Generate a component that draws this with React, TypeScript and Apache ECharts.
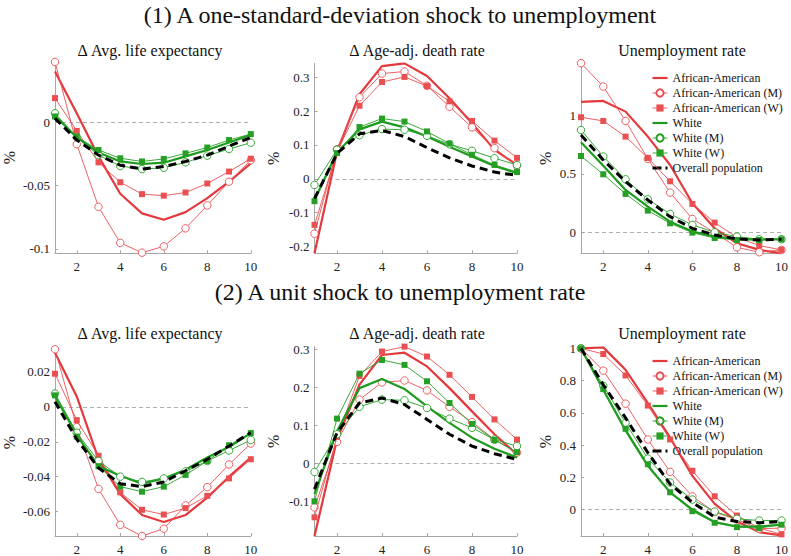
import React, { useEffect, useRef } from "react";
import * as echarts from "echarts";

// Horizon (years after shock)
const HORIZON = [1, 2, 3, 4, 5, 6, 7, 8, 9, 10];
const X_TICKS = [2, 4, 6, 8, 10];

const SERIES_NAMES = [
  "African-American",
  "African-American (M)",
  "African-American (W)",
  "White",
  "White (M)",
  "White (W)",
  "Overall population",
];

const ROW_TITLES = [
  "(1) A one-standard-deviation shock to unemployment",
  "(2) A unit shock to unemployment rate",
];
const PANEL_TITLES = ["Δ Avg. life expectancy", "Δ Age-adj. death rate", "Unemployment rate"];

// ---------- (1) one-s.d. shock : Δ Avg. life expectancy ----------
const sdLifeAA = [0.040, 0.007, -0.027, -0.0565, -0.072, -0.077, -0.071, -0.060, -0.047, -0.0325];
const sdLifeAAM = [0.0475, -0.0174, -0.0668, -0.0953, -0.103, -0.098, -0.0838, -0.0657, -0.047, -0.030];
const sdLifeAAW = [0.019, -0.0069, -0.0317, -0.0474, -0.0568, -0.058, -0.0555, -0.0484, -0.039, -0.0288];
const sdLifeW = [0.005, -0.012, -0.024, -0.031, -0.033, -0.032, -0.027, -0.022, -0.016, -0.010];
const sdLifeWM = [0.007, -0.012, -0.026, -0.0346, -0.037, -0.036, -0.0317, -0.0264, -0.0212, -0.0162];
const sdLifeWW = [0.0045, -0.0115, -0.022, -0.0285, -0.031, -0.029, -0.0246, -0.020, -0.0141, -0.0094];
const sdLifeAll = [0.003, -0.014, -0.026, -0.034, -0.037, -0.035, -0.031, -0.026, -0.019, -0.012];
const sdLifeTicks = [-0.1, -0.05, 0];

// ---------- (1) one-s.d. shock : Δ Age-adj. death rate ----------
const sdDeathAA = [-0.22, 0.08, 0.25, 0.333, 0.341, 0.304, 0.238, 0.164, 0.0855, 0.041];
const sdDeathAAM = [-0.162, 0.0875, 0.241, 0.311, 0.317, 0.275, 0.213, 0.152, 0.0905, 0.039];
const sdDeathAAW = [-0.136, 0.08, 0.216, 0.286, 0.301, 0.274, 0.229, 0.171, 0.113, 0.062];
const sdDeathW = [-0.062, 0.078, 0.146, 0.169, 0.152, 0.125, 0.095, 0.066, 0.038, 0.017];
const sdDeathWM = [-0.018, 0.086, 0.129, 0.147, 0.145, 0.127, 0.102, 0.083, 0.061, 0.041];
const sdDeathWW = [-0.066, 0.076, 0.153, 0.178, 0.169, 0.14, 0.104, 0.071, 0.041, 0.02];
const sdDeathAll = [-0.058, 0.075, 0.133, 0.143, 0.125, 0.092, 0.062, 0.038, 0.02, 0.01];
const sdDeathTicks = [-0.2, -0.1, 0, 0.1, 0.2, 0.3];

// ---------- (1) one-s.d. shock : Unemployment rate ----------
const sdUnempAA = [1.117, 1.126, 1.034, 0.82, 0.577, 0.249, 0.034, -0.094, -0.151, -0.18];
const sdUnempAAM = [1.449, 1.249, 0.954, 0.629, 0.34, 0.114, -0.003, -0.129, -0.171, -0.151];
const sdUnempAAW = [0.986, 0.954, 0.82, 0.637, 0.437, 0.243, 0.083, -0.043, -0.114, -0.151];
const sdUnempW = [0.771, 0.57, 0.363, 0.22, 0.091, 0.006, -0.037, -0.057, -0.06, -0.06];
const sdUnempWM = [0.877, 0.649, 0.454, 0.283, 0.157, 0.063, 0.0, -0.037, -0.06, -0.06];
const sdUnempWW = [0.654, 0.497, 0.329, 0.186, 0.077, -0.003, -0.049, -0.066, -0.066, -0.06];
const sdUnempAll = [0.834, 0.62, 0.434, 0.277, 0.134, 0.034, -0.023, -0.057, -0.066, -0.06];
const sdUnempTicks = [0, 0.5, 1];

// ---------- (2) unit shock : Δ Avg. life expectancy ----------
const unitLifeAA = [0.031, 0.006, -0.030, -0.050, -0.062, -0.066, -0.062, -0.052, -0.040, -0.029];
const unitLifeAAM = [0.033, -0.0116, -0.047, -0.0676, -0.074, -0.0698, -0.0565, -0.046, -0.033, -0.021];
const unitLifeAAW = [0.019, -0.0076, -0.028, -0.049, -0.059, -0.0617, -0.058, -0.051, -0.041, -0.030];
const unitLifeW = [0.006, -0.016, -0.034, -0.0395, -0.044, -0.041, -0.036, -0.029, -0.023, -0.015];
const unitLifeWM = [0.0076, -0.0148, -0.031, -0.040, -0.043, -0.041, -0.037, -0.031, -0.025, -0.019];
const unitLifeWW = [0.0066, -0.017, -0.034, -0.0457, -0.0486, -0.0457, -0.039, -0.031, -0.022, -0.015];
const unitLifeAll = [0.003, -0.0186, -0.035, -0.044, -0.0457, -0.043, -0.0366, -0.030, -0.0224, -0.0148];
const unitLifeTicks = [-0.06, -0.04, -0.02, 0, 0.02];

// ---------- (2) unit shock : Δ Age-adj. death rate ----------
const unitDeathAA = [-0.19, 0.063, 0.207, 0.285, 0.291, 0.255, 0.198, 0.137, 0.077, 0.024];
const unitDeathAAM = [-0.115, 0.057, 0.168, 0.213, 0.218, 0.192, 0.149, 0.109, 0.063, 0.029];
const unitDeathAAW = [-0.141, 0.07, 0.23, 0.294, 0.307, 0.281, 0.233, 0.175, 0.116, 0.063];
const unitDeathW = [-0.08, 0.085, 0.198, 0.222, 0.196, 0.15, 0.107, 0.068, 0.039, 0.016];
const unitDeathWM = [-0.022, 0.077, 0.149, 0.168, 0.166, 0.146, 0.118, 0.094, 0.063, 0.046];
const unitDeathWW = [-0.099, 0.118, 0.236, 0.272, 0.259, 0.216, 0.159, 0.104, 0.062, 0.03];
const unitDeathAll = [-0.067, 0.081, 0.159, 0.172, 0.155, 0.116, 0.077, 0.046, 0.026, 0.011];
const unitDeathTicks = [-0.1, 0, 0.1, 0.2, 0.3];

// ---------- (2) unit shock : Unemployment rate ----------
const unitUnempAA = [1.0, 1.006, 0.867, 0.661, 0.446, 0.209, 0.035, -0.074, -0.14, -0.16];
const unitUnempAAM = [1.0, 0.862, 0.657, 0.435, 0.234, 0.082, -0.016, -0.062, -0.119, -0.115];
const unitUnempAAW = [1.0, 0.965, 0.832, 0.645, 0.435, 0.24, 0.082, -0.037, -0.115, -0.154];
const unitUnempW = [1.0, 0.743, 0.491, 0.271, 0.107, 0.0, -0.078, -0.105, -0.105, -0.094];
const unitUnempWM = [1.0, 0.768, 0.538, 0.316, 0.168, 0.062, -0.012, -0.057, -0.068, -0.068];
const unitUnempWW = [1.0, 0.747, 0.501, 0.281, 0.107, -0.01, -0.082, -0.109, -0.115, -0.094];
const unitUnempAll = [1.0, 0.774, 0.569, 0.353, 0.158, 0.045, -0.047, -0.074, -0.082, -0.074];
const unitUnempTicks = [0, 0.2, 0.4, 0.6, 0.8, 1];

const PANEL_DATA = [
  [sdLifeAA, sdLifeAAM, sdLifeAAW, sdLifeW, sdLifeWM, sdLifeWW, sdLifeAll],
  [sdDeathAA, sdDeathAAM, sdDeathAAW, sdDeathW, sdDeathWM, sdDeathWW, sdDeathAll],
  [sdUnempAA, sdUnempAAM, sdUnempAAW, sdUnempW, sdUnempWM, sdUnempWW, sdUnempAll],
  [unitLifeAA, unitLifeAAM, unitLifeAAW, unitLifeW, unitLifeWM, unitLifeWW, unitLifeAll],
  [unitDeathAA, unitDeathAAM, unitDeathAAW, unitDeathW, unitDeathWM, unitDeathWW, unitDeathAll],
  [unitUnempAA, unitUnempAAM, unitUnempAAW, unitUnempW, unitUnempWM, unitUnempWW, unitUnempAll],
];
const PANEL_TICKS = [sdLifeTicks, sdDeathTicks, sdUnempTicks, unitLifeTicks, unitDeathTicks, unitUnempTicks];
// tight y-limits (data range) per panel
const PANEL_YMIN = [-0.1035, -0.22, -0.18, -0.074, -0.19, -0.164];
const PANEL_YMAX = [0.0475, 0.341, 1.449, 0.033, 0.307, 1.006];

const FONT = '"Liberation Serif", "Times New Roman", serif';
const RED = "#e3393c";
const RED_L = "#ea4f52";
const GREEN = "#1e9a1e";
const GREEN_L = "#25a025";

const SERIES_STYLE = [
  { color: RED, width: 2.2, symbol: "none", size: 0, hollow: false, dash: "solid" },
  { color: RED_L, width: 0.9, symbol: "circle", size: 7.5, hollow: true, dash: "solid" },
  { color: RED_L, width: 0.9, symbol: "rect", size: 6, hollow: false, dash: "solid" },
  { color: GREEN, width: 2.2, symbol: "none", size: 0, hollow: false, dash: "solid" },
  { color: GREEN_L, width: 0.9, symbol: "circle", size: 7.5, hollow: true, dash: "solid" },
  { color: GREEN_L, width: 0.9, symbol: "rect", size: 6, hollow: false, dash: "solid" },
  { color: "#000000", width: 3, symbol: "none", size: 0, hollow: false, dash: [8, 5] },
];

// layout (px in the 791x556 page)
const COL_LEFT = [48.3, 314.5, 581];
const PLOT_W = 202.5;
const ROW_BOTTOM = [253.3, 537.3];
const PANEL_TOP = [62, 63.4, 63.2, 349.3, 346.6, 347.4];
const NAME_GAP = [38, 33, 28, 38, 33, 28];
const TITLE_X = [150, 417, 682];
const TITLE_Y = [50, 333];
const ROW_TITLE_Y = [15, 292];
const LEGEND_TOP = [72, 355];

export default function App() {
  const ref = useRef<HTMLDivElement>(null);
  useEffect(() => {
    if (!ref.current) return;
    const chart = echarts.init(ref.current, undefined, { renderer: "svg" });

    const grids: any[] = [];
    const xAxes: any[] = [];
    const yAxes: any[] = [];
    const series: any[] = [];

    for (let p = 0; p < 6; p++) {
      const col = p % 3;
      const row = Math.floor(p / 3);
      const top = PANEL_TOP[p];
      grids.push({
        left: COL_LEFT[col],
        top,
        width: PLOT_W,
        height: ROW_BOTTOM[row] - top,
        containLabel: false,
      });
      xAxes.push({
        type: "value",
        gridIndex: p,
        min: 1,
        max: 10,
        axisLine: { show: true, onZero: false, lineStyle: { color: "#a6a6a6", width: 1 } },
        axisTick: { show: true, inside: true, length: 3, customValues: X_TICKS, lineStyle: { color: "#a6a6a6" } },
        axisLabel: { customValues: X_TICKS, color: "#222", fontFamily: FONT, fontSize: 13, margin: 7 },
        splitLine: { show: false },
      });
      const ticks = PANEL_TICKS[p];
      yAxes.push({
        type: "value",
        gridIndex: p,
        min: PANEL_YMIN[p],
        max: PANEL_YMAX[p],
        name: "%",
        nameLocation: "middle",
        nameGap: NAME_GAP[p],
        nameTextStyle: { color: "#222", fontFamily: FONT, fontSize: 16 },
        axisLine: { show: true, lineStyle: { color: "#a6a6a6", width: 1 } },
        axisTick: { show: true, inside: true, length: 3, customValues: ticks, lineStyle: { color: "#a6a6a6" } },
        axisLabel: { customValues: ticks, color: "#222", fontFamily: FONT, fontSize: 13, margin: 5 },
        splitLine: { show: false },
      });
      PANEL_DATA[p].forEach((vals, s) => {
        const st = SERIES_STYLE[s];
        const ser: any = {
          type: "line",
          name: SERIES_NAMES[s],
          xAxisIndex: p,
          yAxisIndex: p,
          data: HORIZON.map((h, i) => [h, vals[i]]),
          symbol: st.symbol,
          symbolSize: st.size,
          showSymbol: st.symbol !== "none",
          lineStyle: { color: st.color, width: st.width, type: st.dash },
          itemStyle: st.hollow
            ? { color: "#ffffff", borderColor: st.color, borderWidth: 0.9 }
            : { color: st.color, borderWidth: 0 },
          z: 2 + s,
          silent: true,
          clip: true,
        };
        if (s === 0) {
          ser.markLine = {
            silent: true,
            symbol: ["none", "none"],
            label: { show: false },
            lineStyle: { color: "#9a9a9a", width: 0.8, type: [4, 3] },
            data: [{ yAxis: 0 }],
            z: 1,
          };
        }
        series.push(ser);
      });
    }

    const legendData = SERIES_NAMES.map((name, s) => {
      const st = SERIES_STYLE[s];
      const item: any = {
        name,
        lineStyle: { color: st.color, width: st.width, type: s === 6 ? [9, 4] : "solid" },
      };
      if (st.symbol === "none") item.itemStyle = { opacity: 0 };
      return item;
    });
    const legends = LEGEND_TOP.map((top) => ({
      orient: "vertical",
      left: 651,
      top,
      padding: 0,
      itemWidth: 15,
      itemHeight: 9,
      itemGap: 3,
      selectedMode: false,
      data: legendData,
      textStyle: { fontFamily: FONT, fontSize: 12, color: "#111" },
    }));

    const graphic: any[] = [];
    ROW_TITLES.forEach((t, r) => {
      graphic.push({
        type: "text",
        x: 400,
        y: ROW_TITLE_Y[r],
        style: { text: t, font: `24px ${FONT}`, fill: "#111", textAlign: "center", textVerticalAlign: "middle" },
      });
    });
    for (let r = 0; r < 2; r++) {
      PANEL_TITLES.forEach((t, c) => {
        graphic.push({
          type: "text",
          x: TITLE_X[c],
          y: TITLE_Y[r],
          style: { text: t, font: `16px ${FONT}`, fill: "#111", textAlign: "center", textVerticalAlign: "middle" },
        });
      });
    }

    chart.setOption({
      animation: false,
      backgroundColor: "#ffffff",
      grid: grids,
      xAxis: xAxes,
      yAxis: yAxes,
      series,
      legend: legends,
      graphic,
    });
    return () => chart.dispose();
  }, []);
  return (
    <div
      ref={ref}
      style={{ position: "absolute", left: 0, top: 0, width: 791, height: 556 }}
    />
  );
}
